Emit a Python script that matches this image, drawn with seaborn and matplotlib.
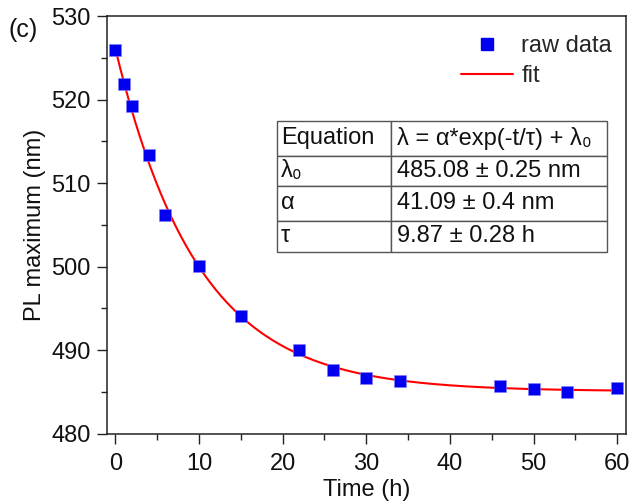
import numpy as np
import matplotlib
matplotlib.use("Agg")
import matplotlib.pyplot as plt
import pandas as pd
import seaborn as sns
from matplotlib.ticker import MultipleLocator
from matplotlib.lines import Line2D

# raw data
time_h = [0, 1, 2, 4, 6, 10, 15, 22, 26, 30, 34, 46, 50, 54, 60]
pl_max = [525.9, 521.9, 519.3, 513.4, 506.2, 500.1, 494.1, 490.0, 487.6,
          486.7, 486.3, 485.7, 485.35, 485.05, 485.5]

# fitted parameters (from the table in the figure)
lam0 = 485.08
alpha = 41.09
tau = 9.87

table_rows = [
    ["Equation", "λ = α*exp(-t/τ) + λ₀"],
    ["λ₀", "485.08 ± 0.25 nm"],
    ["α", "41.09 ± 0.4 nm"],
    ["τ", "9.87 ± 0.28 h"],
]
row_heights = [34.7, 30.3, 35.0, 30.7]

df = pd.DataFrame({"t": time_h, "pl": pl_max})
t_fit = np.linspace(0, 60, 300)
fit_df = pd.DataFrame({"t": t_fit, "pl": alpha * np.exp(-t_fit / tau) + lam0})

sns.set_theme(style="ticks")
plt.rcParams["font.family"] = ["Liberation Sans", "DejaVu Sans"]
fs = 17

fig = plt.figure(figsize=(6.35, 5.04), dpi=100)
ax = fig.add_axes([107.3 / 635, 1 - 433.7 / 504, 518.4 / 635, 417.5 / 504])

sns.lineplot(data=fit_df, x="t", y="pl", ax=ax, color="red", linewidth=1.5, zorder=2)
sns.scatterplot(data=df, x="t", y="pl", ax=ax, marker="s", s=85, color="#0000ee",
                edgecolor="#8080ff", linewidth=0.4, zorder=3)

ax.set_xlim(-0.95, 61)
ax.set_ylim(480, 530)
ax.xaxis.set_major_locator(MultipleLocator(10))
ax.xaxis.set_minor_locator(MultipleLocator(5))
ax.yaxis.set_major_locator(MultipleLocator(10))
ax.yaxis.set_minor_locator(MultipleLocator(5))
ax.tick_params(which="major", direction="out", length=7, width=1.0, labelsize=fs,
               color="#222222", labelcolor="#111111", pad=5)
ax.tick_params(axis="x", which="major", pad=7)
ax.tick_params(which="minor", direction="out", length=4, width=1.0, color="#222222")
for sp in ax.spines.values():
    sp.set_linewidth(1.1)
    sp.set_color("#222222")

ax.set_xlabel("Time (h)", fontsize=fs, color="#111111", labelpad=3)
ax.set_ylabel("PL maximum (nm)", fontsize=fs, color="#111111", labelpad=4)

handles = [
    Line2D([], [], marker="s", linestyle="none", color="#0000ee", markersize=8),
    Line2D([], [], color="red", linewidth=1.5),
]
ax.legend(handles, ["raw data", "fit"], loc="upper right", frameon=False,
          fontsize=fs, handlelength=2.2, handletextpad=0.35, labelspacing=0.35,
          borderpad=0, borderaxespad=0,
          bbox_to_anchor=(612 / 635, 1 - 35 / 504), bbox_transform=fig.transFigure)

tbl = ax.table(cellText=table_rows, cellLoc="left", colWidths=[0.344, 0.656],
               bbox=[0.328, 0.436, 0.635, 0.313], zorder=4)
tbl.auto_set_font_size(False)
tbl.set_fontsize(fs)
for (r, c), cell in tbl.get_celld().items():
    cell.set_height(row_heights[r])
    cell.set_edgecolor("#555555")
    cell.set_linewidth(1.0)
    cell.PAD = 0.03
    cell.get_text().set_color("#111111")

fig.text(8 / 635, 1 - 30 / 504, "(c)", fontsize=18, va="center", ha="left", color="#111111")

fig.savefig("out.png", dpi=100)
